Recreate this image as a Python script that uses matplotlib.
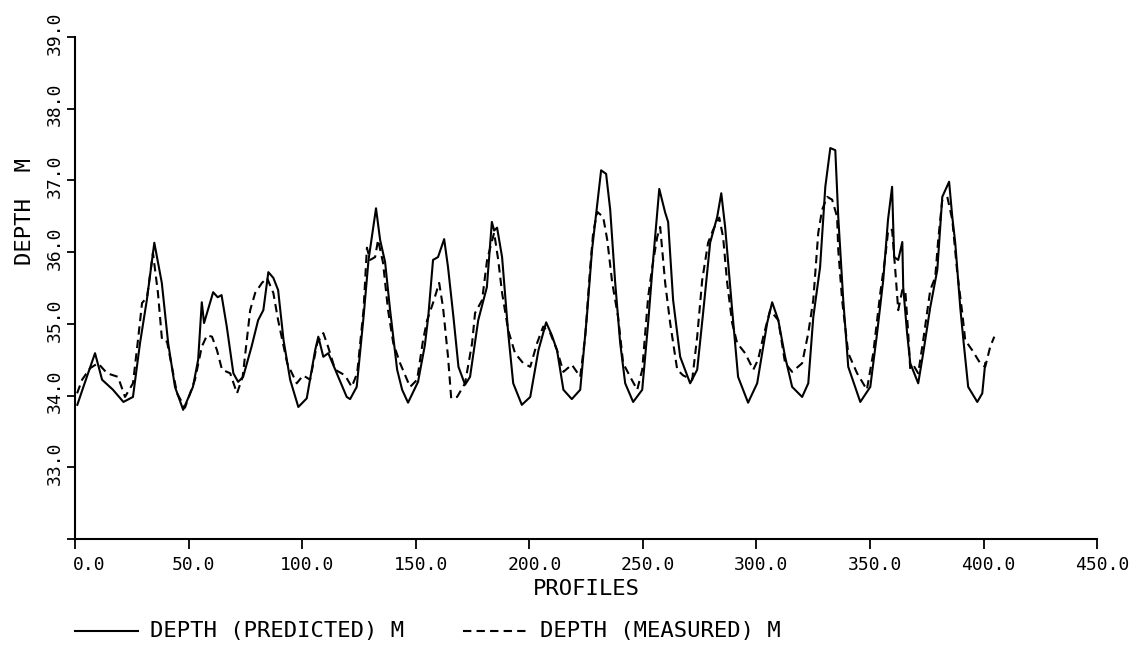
import numpy as np
import matplotlib.pyplot as plt
from matplotlib.lines import Line2D
from matplotlib.transforms import ScaledTranslation

plt.rcParams['font.family'] = ['DejaVu Sans Mono']

# глубина (расчет) по профилям
pred_x = [1.0, 4.0, 8.8, 11.9, 16.7, 21.3, 25.5, 28.6, 31.6, 34.9, 38.2, 41.0, 44.0, 47.6,
          51.9, 54.2, 55.8, 56.8, 60.8, 62.8, 64.5, 66.8, 69.7, 71.8, 74.0, 77.7, 80.6,
          82.9, 85.1, 87.3, 89.4, 91.8, 94.7, 98.3, 102.0, 105.7, 107.1, 109.3, 111.5,
          115.2, 119.6, 121.1, 124.0, 127.0, 129.2, 132.5, 134.3, 136.5, 138.7, 141.8,
          144.0, 146.6, 151.0, 154.0, 155.5, 157.6, 159.8, 162.5, 164.2, 166.6, 168.8,
          171.7, 173.9, 177.5, 181.3, 183.5, 184.5, 185.8, 188.0, 190.7, 192.9, 196.7,
          200.4, 204.0, 207.4, 209.9, 212.2, 215.0, 218.7, 222.4, 225.3, 227.6, 229.7,
          231.6, 233.8, 235.6, 237.8, 240.0, 242.2, 245.7, 249.7, 252.3, 254.5, 257.2,
          259.8, 261.1, 263.3, 266.4, 270.8, 273.9, 276.5, 279.6, 282.7, 284.5, 286.2,
          289.3, 291.9, 296.3, 300.3, 304.7, 306.9, 309.6, 312.6, 315.7, 320.1, 322.8,
          325.0, 328.0, 330.3, 332.5, 334.7, 336.0, 338.2, 340.4, 345.7, 350.1, 353.1,
          355.8, 357.9, 359.7, 360.6, 362.4, 364.2, 364.6, 366.3, 367.7, 371.2, 373.4,
          376.5, 379.6, 381.8, 384.8, 386.2, 387.5, 389.7, 391.1, 393.2, 397.2, 399.4, 400.7]
pred_y = [33.87, 34.15, 34.59, 34.22, 34.08, 33.91, 33.98, 34.73, 35.33, 36.13, 35.57, 34.73,
          34.12, 33.80, 34.12, 34.50, 35.30, 35.01, 35.44, 35.37, 35.40, 34.96, 34.31, 34.19,
          34.26, 34.68, 35.05, 35.19, 35.72, 35.64, 35.47, 34.77, 34.22, 33.84, 33.96, 34.63,
          34.82, 34.54, 34.59, 34.31, 33.98, 33.95, 34.12, 35.09, 35.89, 36.61, 36.17, 35.86,
          35.19, 34.36, 34.08, 33.90, 34.19, 34.70, 35.10, 35.89, 35.93, 36.18, 35.79, 35.09,
          34.40, 34.15, 34.26, 35.05, 35.51, 36.42, 36.30, 36.34, 35.93, 34.87, 34.17, 33.87,
          33.98, 34.63, 35.02, 34.84, 34.63, 34.08, 33.95, 34.08, 35.09, 36.03, 36.61, 37.14,
          37.09, 36.59, 35.57, 34.73, 34.17, 33.91, 34.08, 35.01, 35.89, 36.88, 36.55, 36.42,
          35.33, 34.54, 34.17, 34.36, 35.15, 36.13, 36.49, 36.82, 36.35, 35.19, 34.26, 33.90,
          34.17, 35.01, 35.30, 35.05, 34.54, 34.12, 33.98, 34.17, 35.09, 35.79, 36.91, 37.45,
          37.42, 36.49, 35.33, 34.40, 33.91, 34.12, 34.87, 35.61, 36.45, 36.91, 35.93, 35.89,
          36.14, 35.51, 34.87, 34.45, 34.17, 34.59, 35.23, 35.75, 36.77, 36.98, 36.49, 36.13,
          35.23, 34.77, 34.12, 33.91, 34.03, 34.45]

# глубина (измерения)
meas_x = [0.9, 3.1, 6.6, 10.1, 14.1, 18.9, 22.0, 25.5, 27.7, 29.5, 31.7, 34.3, 36.5, 38.3,
          40.5, 44.9, 48.4, 52.8, 55.8, 58.1, 60.3, 62.5, 64.7, 68.3, 71.3, 73.8, 77.1, 79.3,
          82.3, 84.5, 87.3, 89.4, 93.4, 97.6, 100.4, 103.5, 106.6, 109.3, 111.4, 114.5,
          118.9, 121.8, 124.2, 127.0, 128.5, 129.9, 132.1, 133.4, 135.6, 137.8, 140.1,
          143.1, 147.5, 150.6, 153.2, 155.0, 157.6, 160.3, 162.0, 164.2, 165.6, 168.2,
          171.7, 174.8, 176.1, 179.2, 181.4, 184.5, 186.3, 188.0, 190.7, 193.7, 197.3,
          200.4, 203.4, 206.1, 209.2, 212.2, 215.0, 218.7, 222.4, 224.6, 226.8, 228.1,
          229.9, 232.5, 234.3, 236.5, 239.1, 241.3, 244.4, 247.5, 249.7, 252.3, 254.1,
          256.3, 257.6, 259.8, 262.0, 265.1, 267.7, 271.7, 273.9, 276.1, 278.7, 280.9,
          283.6, 285.3, 287.1, 289.3, 291.5, 295.0, 298.6, 300.7, 303.0, 306.0, 309.6,
          312.6, 315.7, 320.1, 322.8, 325.0, 327.2, 328.9, 331.1, 333.3, 335.5, 336.0,
          337.7, 340.4, 344.3, 348.6, 351.4, 354.5, 356.7, 358.0, 359.7, 361.1, 362.4,
          364.2, 365.5, 366.8, 367.7, 369.5, 371.2, 373.4, 376.5, 378.7, 380.0, 381.8,
          384.0, 386.2, 388.4, 390.6, 391.9, 395.0, 398.5, 400.7, 402.9, 404.7]
meas_y = [34.03, 34.22, 34.38, 34.45, 34.31, 34.26, 33.98, 34.17, 34.77, 35.29, 35.37, 35.99,
          35.43, 34.77, 34.75, 34.03, 33.83, 34.22, 34.68, 34.84, 34.82, 34.63, 34.36, 34.31,
          34.03, 34.26, 35.19, 35.43, 35.57, 35.64, 35.43, 35.05, 34.45, 34.17, 34.28, 34.22,
          34.73, 34.87, 34.68, 34.36, 34.28, 34.12, 34.31, 35.19, 36.06, 35.89, 35.93, 36.17,
          35.85, 35.19, 34.73, 34.45, 34.12, 34.22, 34.77, 35.05, 35.29, 35.57, 35.23, 34.54,
          33.96, 33.98, 34.17, 34.73, 35.15, 35.33, 35.89, 36.27, 35.89, 35.43, 34.91, 34.59,
          34.45, 34.40, 34.73, 34.96, 34.87, 34.63, 34.33, 34.43, 34.26, 34.82, 35.79, 36.27,
          36.56, 36.49, 36.17, 35.57, 35.09, 34.45, 34.26, 34.08, 34.36, 35.37, 35.79, 36.21,
          36.35, 35.57, 35.01, 34.36, 34.28, 34.22, 34.82, 35.61, 36.13, 36.31, 36.48, 36.21,
          35.57, 35.01, 34.73, 34.59, 34.36, 34.50, 34.82, 35.19, 35.05, 34.45, 34.33, 34.45,
          34.87, 35.33, 36.27, 36.59, 36.77, 36.73, 36.49, 36.03, 35.33, 34.59, 34.31, 34.08,
          34.59, 35.43, 35.93, 36.31, 36.31, 35.75, 35.19, 35.47, 35.47, 34.87, 34.36, 34.40,
          34.31, 34.77, 35.47, 35.65, 36.17, 36.73, 36.77, 36.45, 35.71, 35.15, 34.77, 34.63,
          34.45, 34.40, 34.68, 34.82]

xticks = np.arange(0, 451, 50)
yticks = np.arange(32, 40, 1)
ylabels = ['' if v == 32 else '%.1f' % v for v in yticks]

fig = plt.figure(figsize=(11.37, 6.47), dpi=100)
ax = fig.add_axes([0.066, 0.167, 0.899, 0.776])

ax.plot(pred_x, pred_y, color='black', lw=1.5)
ax.plot(meas_x, meas_y, color='black', lw=1.5, linestyle=(0, (4, 2.5)))

ax.set_xlim(0, 450)
ax.set_ylim(32, 39)
ax.spines['top'].set_visible(False)
ax.spines['right'].set_visible(False)
ax.spines['left'].set_linewidth(1.5)
ax.spines['bottom'].set_linewidth(1.5)

ax.set_xticks(xticks)
ax.set_xticklabels(['%.1f' % v for v in xticks], fontsize=13)
ax.set_yticks(yticks)
ax.set_yticklabels(ylabels, fontsize=13, rotation=90, va='center')
ax.tick_params(axis='x', direction='out', length=7, width=1.3, pad=5)
ax.tick_params(axis='y', direction='out', length=6, width=1.3, pad=2)

# подписи плоттера сдвинуты вправо от засечек, у нуля сильнее
for i, lab in enumerate(ax.get_xticklabels()):
    dx = 14 if i == 0 else 5
    lab.set_transform(lab.get_transform() + ScaledTranslation(dx / 100, 0, fig.dpi_scale_trans))
for lab in ax.get_yticklabels():
    lab.set_transform(lab.get_transform() + ScaledTranslation(0, 4 / 100, fig.dpi_scale_trans))

ax.set_xlabel('PROFILES', fontsize=16, labelpad=4)
fig.text(0.022, 0.673, 'DEPTH  M', rotation=90, fontsize=16, ha='center', va='center')

# легенда
ly = 0.024
fig.add_artist(Line2D([0.066, 0.121], [ly, ly], color='black', lw=1.5))
fig.text(0.132, ly, 'DEPTH (PREDICTED) M', fontsize=16, va='center')
fig.add_artist(Line2D([0.407, 0.464], [ly, ly], color='black', lw=1.5,
                      linestyle=(0, (4, 2.5))))
fig.text(0.475, ly, 'DEPTH (MEASURED) M', fontsize=16, va='center')

plt.savefig('out.png', dpi=100)
